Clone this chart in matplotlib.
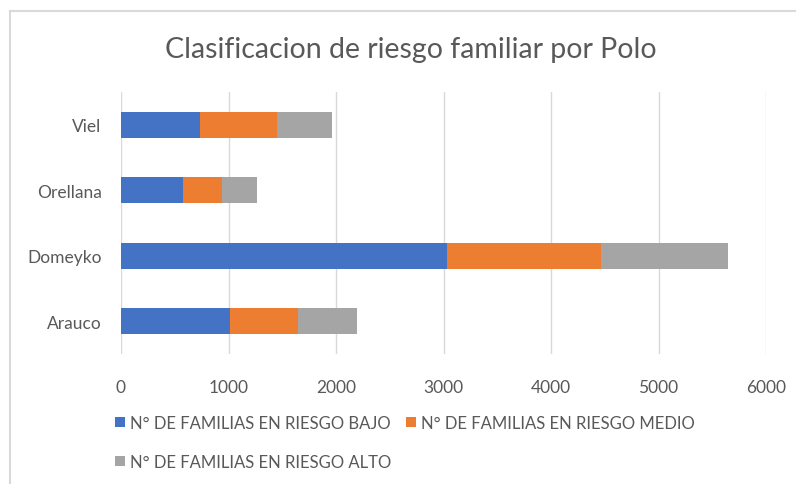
import matplotlib
matplotlib.use("Agg")
import matplotlib.pyplot as plt
from matplotlib.lines import Line2D
import numpy as np

plt.rcParams['font.family'] = ['Lato', 'DejaVu Sans']

polos = ["Arauco", "Domeyko", "Orellana", "Viel"]
riesgo_bajo = [1014, 3035, 577, 735]
riesgo_medio = [635, 1426, 365, 716]
riesgo_alto = [549, 1188, 326, 512]
series_labels = ["N° DE FAMILIAS EN RIESGO BAJO",
                 "N° DE FAMILIAS EN RIESGO MEDIO",
                 "N° DE FAMILIAS EN RIESGO ALTO"]
colores = ["#4472C4", "#ED7D31", "#A5A5A5"]
xticks = [0, 1000, 2000, 3000, 4000, 5000, 6000]

W, H = 796, 485
fig = plt.figure(figsize=(W/100, H/100), dpi=100)
ax = fig.add_axes([121/W, 1-355/H, 645/W, 262/H])

y = np.arange(len(polos))
left = np.zeros(len(polos))
handles = []
for vals, lab, col in zip([riesgo_bajo, riesgo_medio, riesgo_alto], series_labels, colores):
    h = ax.barh(y, vals, left=left, height=0.4, color=col, label=lab, zorder=3)
    handles.append(h)
    left = left + np.array(vals)

ax.set_xlim(0, 6000)
ax.set_ylim(-0.5, 3.5)
ax.set_xticks(xticks)
ax.set_yticks(y)
ax.set_yticklabels(polos)
ax.grid(axis='x', color='#D9D9D9', linewidth=1, zorder=0)
for s in ax.spines.values():
    s.set_visible(False)
ax.tick_params(axis='both', length=0, labelsize=12.5, labelcolor='#595959')
ax.tick_params(axis='x', pad=18)
ax.tick_params(axis='y', pad=14)

fig.text(411/W, 1-50/H, "Clasificacion de riesgo familiar por Polo",
         ha='center', va='center', fontsize=20.5, color='#595959')

# row-wise order: bajo, medio / alto
leg_handles = [handles[0], handles[2], handles[1]]
fig.legend(handles=leg_handles, loc='upper left', bbox_to_anchor=(103/W, 1-404/H),
           ncol=2, frameon=False, fontsize=12, labelcolor='#595959',
           handlelength=0.6, handleheight=0.6, handletextpad=0.3,
           columnspacing=0.9, labelspacing=1.4, borderpad=0.2)

# chart frame (top and left edges visible in the crop)
fig.add_artist(Line2D([10/W, 10/W], [0, 1-12/H], color='#D9D9D9', lw=1.5,
                      transform=fig.transFigure))
fig.add_artist(Line2D([10/W, 1], [1-12/H, 1-12/H], color='#D9D9D9', lw=1.5,
                      transform=fig.transFigure))

fig.savefig("out.png", dpi=100)
